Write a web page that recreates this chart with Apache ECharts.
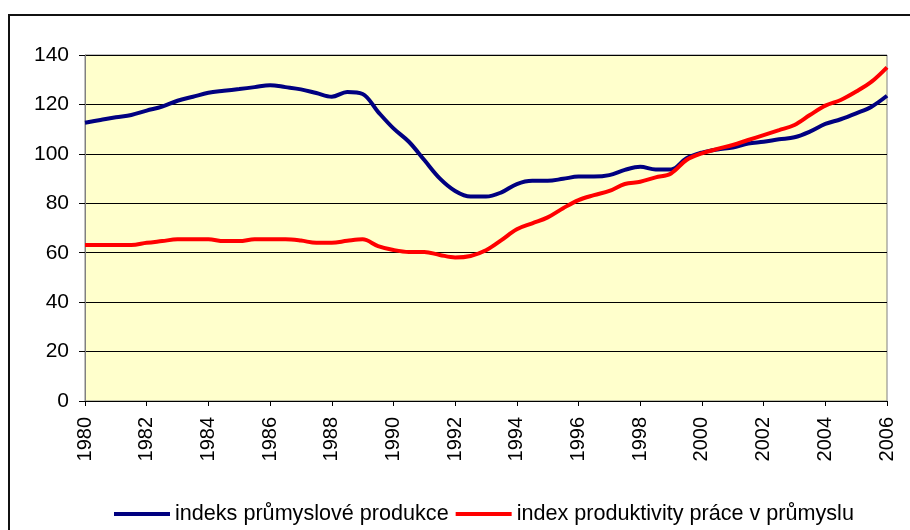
<!DOCTYPE html>
<html>
<head>
<meta charset="utf-8">
<script src="https://cdn.jsdelivr.net/npm/echarts@6/dist/echarts.min.js"></script>
<style>
    html, body { margin: 0; padding: 0; background: #fff; }
    #chart { width: 910px; height: 530px; }
</style>
</head>
<body>
<div id="chart"></div>
<script>
// pololetni body 1980 - 2006
let years = [];
for (let i = 0; i <= 52; i++) {
    years.push(1980 + i / 2);
}

let productionIndex = [
    112.6, 113.7, 114.8, 115.7, 117.5, 119.1, 121.5, 123.1, 124.7, 125.5,
    126.2, 127.0, 127.8, 127.0, 126.1, 124.6, 123.1, 125.0, 124.2, 117.0,
    110.3, 104.9, 97.5, 90.1, 85.0, 82.7, 82.7, 84.4, 87.8, 89.1,
    89.1, 89.9, 90.8, 90.8, 91.4, 93.5, 94.8, 93.7, 93.7, 98.2,
    100.5, 101.8, 102.6, 104.2, 104.9, 105.9, 106.7, 109.0, 112.1, 114.0,
    116.4, 119.1, 123.5
];

let productivityIndex = [
    63.1, 63.1, 63.1, 63.1, 64.0, 64.7, 65.4, 65.4, 65.4, 64.7,
    64.7, 65.4, 65.4, 65.4, 64.9, 64.0, 64.0, 64.8, 65.4, 62.7,
    61.1, 60.3, 60.3, 59.1, 58.1, 58.7, 61.0, 65.1, 69.5, 71.9,
    74.3, 78.0, 81.3, 83.3, 85.0, 87.8, 88.7, 90.5, 92.1, 97.5,
    100.2, 102.0, 103.6, 105.6, 107.6, 109.6, 111.7, 115.7, 119.5, 121.8,
    125.2, 129.2, 135.0
];

let seriesNames = ['indeks průmyslové produkce', 'index produktivity práce v průmyslu'];

function toPoints(values) {
    return years.map((y, i) => [y, values[i]]);
}

let font = "'Liberation Sans', Arial, sans-serif";

let chart = echarts.init(document.getElementById('chart'));
chart.setOption({
    animation: false,
    backgroundColor: '#fff',
    graphic: [
        {
            type: 'rect',
            shape: { x: 9, y: 15, width: 920, height: 540 },
            style: { fill: 'none', stroke: '#111', lineWidth: 2 },
            silent: true
        }
    ],
    grid: {
        left: 85,
        right: 23,
        top: 55,
        bottom: 129,
        show: true,
        backgroundColor: '#FFFFCC',
        borderColor: '#808080',
        borderWidth: 1
    },
    legend: {
        left: 109,
        top: 498,
        icon: 'rect',
        itemWidth: 56,
        itemHeight: 4,
        itemGap: 7,
        textStyle: { fontFamily: font, fontSize: 21.6, color: '#000' },
        data: seriesNames
    },
    xAxis: {
        type: 'value',
        min: 1980,
        max: 2006,
        interval: 2,
        axisLine: { lineStyle: { color: '#000', width: 1 } },
        axisTick: { length: 5, lineStyle: { color: '#000' } },
        axisLabel: {
            rotate: 90,
            margin: 16,
            fontFamily: font,
            fontSize: 20,
            color: '#000',
            formatter: v => String(v)
        },
        splitLine: { show: false }
    },
    yAxis: {
        type: 'value',
        min: 0,
        max: 140,
        interval: 20,
        axisLine: { show: true, lineStyle: { color: '#808080', width: 1 } },
        axisTick: { show: true, length: 6, lineStyle: { color: '#000' } },
        axisLabel: {
            margin: 16,
            fontFamily: font,
            fontSize: 21,
            color: '#000'
        },
        splitLine: { lineStyle: { color: '#000', width: 1 } }
    },
    series: [
        {
            name: seriesNames[0],
            type: 'line',
            smooth: 0.35,
            showSymbol: false,
            lineStyle: { color: '#000080', width: 4 },
            itemStyle: { color: '#000080' },
            data: toPoints(productionIndex)
        },
        {
            name: seriesNames[1],
            type: 'line',
            smooth: 0.35,
            showSymbol: false,
            lineStyle: { color: '#FF0000', width: 4 },
            itemStyle: { color: '#FF0000' },
            data: toPoints(productivityIndex)
        }
    ]
});
</script>
</body>
</html>
